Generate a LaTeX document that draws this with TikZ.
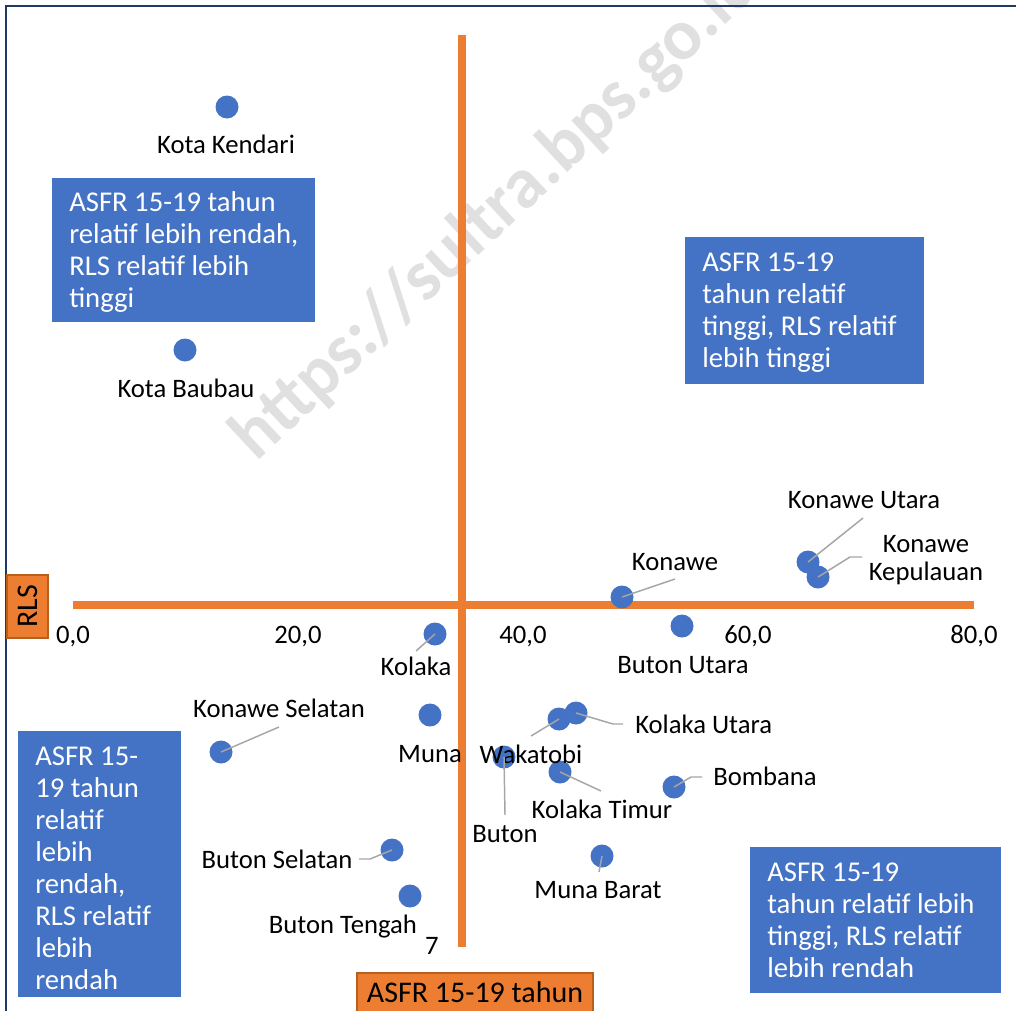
\documentclass[tikz,border=0pt]{standalone}
\usepackage{fontspec}
\setmainfont{Carlito}
\definecolor{ptblue}{HTML}{4472C4}
\definecolor{axorange}{HTML}{ED7D31}
\definecolor{axedge}{HTML}{B4601F}
\definecolor{leadgray}{HTML}{A6A6A6}
\definecolor{framenavy}{HTML}{1F3864}
\definecolor{wmgray}{HTML}{E0E0E0}
\begin{document}
\begin{tikzpicture}[x=0.75pt,y=-0.75pt,
  dot/.style={circle, fill=ptblue, inner sep=0pt, minimum size=17.25pt},
  lbl/.style={font=\fontsize{20}{21}\selectfont, anchor=base, inner sep=0pt},
  lead/.style={draw=leadgray, line width=1.1pt},
  quad/.style={fill=ptblue, text=white, font=\fontsize{21.5}{24}\selectfont,
    align=flush left, anchor=north west, inner xsep=12.75pt, inner ysep=0pt,
    text height=18.7pt, text depth=77pt},
  axline/.style={draw=axorange, line width=6pt},
  axtitle/.style={fill=axorange, draw=axedge, line width=1.2pt,
    font=\fontsize{22.5}{26}\selectfont, text=black}]
\useasboundingbox (0,0) rectangle (1016,1010);

% watermark
\node[rotate=43, anchor=base west, inner sep=0pt, text=wmgray,
  font=\fontsize{54}{60}\selectfont\bfseries] (wm) at (256,463) {https://sultra.bps.go.id};

% outer frame
\draw[framenavy, line width=1.6pt] (1030,6) -- (6,6) -- (6,1030);

% quadrant axes
\coordinate (hx0) at (73,605);
\coordinate (hx1) at (974,605);
\coordinate (vy0) at (462,35);
\coordinate (vy1) at (462,947);
\draw[axline] (hx0) -- (hx1);
\draw[axline] (vy0) -- (vy1);

% tick labels
\node[lbl] (t0) at (73,643) {0,0};
\node[lbl] (t20) at (298,643) {20,0};
\node[lbl] (t40) at (523,643) {40,0};
\node[lbl] (t60) at (748,643) {60,0};
\node[lbl] (t80) at (974,643) {80,0};
\node[lbl] (t7) at (432,954) {7};

% axis titles
\node[axtitle, rotate=90, minimum width=47.25pt, minimum height=30.75pt, inner sep=0pt]
  (rls) at (27.5,606.5) {RLS};
\node[axtitle, anchor=north, minimum width=177pt, inner xsep=0pt, inner ysep=6.75pt,
  text height=15.75pt, text depth=5.6pt] (asfr) at (475,972) {ASFR 15-19 tahun};

% quadrant descriptions
\node[quad, text width=171.75pt, minimum height=108pt] (q2) at (52,178)
  {ASFR 15-19 tahun\\relatif lebih rendah,\\RLS relatif lebih\\tinggi};
\node[quad, text width=153.75pt, minimum height=110.25pt] (q1) at (685,237)
  {ASFR 15-19\\tahun relatif\\tinggi, RLS relatif\\lebih tinggi};
\node[quad, text width=96.75pt, minimum height=196.5pt,
  text height=26pt, text depth=173pt] (q3) at (18,731)
  {ASFR 15-\\19 tahun\\relatif\\lebih\\rendah,\\RLS relatif\\lebih\\rendah};
\node[quad, text width=162.75pt, minimum height=109.5pt] (q4) at (750,847)
  {ASFR 15-19\\tahun relatif lebih\\tinggi, RLS relatif\\lebih rendah};

% data points
\node[dot] (kk)   at (227,107) {};
\node[dot] (kb)   at (185,350) {};
\node[dot] (kon)  at (622,597) {};
\node[dot] (bu)   at (682,626) {};
\node[dot] (ku)   at (808,562) {};
\node[dot] (kkep) at (818,577) {};
\node[dot] (kol)  at (435,634) {};
\node[dot] (mun)  at (430,715) {};
\node[dot] (ks)   at (221,752) {};
\node[dot] (wak)  at (559,719) {};
\node[dot] (kut)  at (576,713) {};
\node[dot] (but)  at (504,757) {};
\node[dot] (kt)   at (560,772) {};
\node[dot] (bom)  at (674,787) {};
\node[dot] (mb)   at (602,856) {};
\node[dot] (bs)   at (392,850) {};
\node[dot] (bt)   at (410,896) {};

% data labels
\node[lbl] (lkk)   at (226,153) {Kota Kendari};
\node[lbl] (lkb)   at (186,397) {Kota Baubau};
\node[lbl] (lkon)  at (675,570) {Konawe};
\node[lbl] (lbu)   at (683,673) {Buton Utara};
\node[lbl] (lku)   at (864,508) {Konawe Utara};
\node[lbl, align=center] (lkkep) at (926,580) {Konawe\\Kepulauan};
\node[lbl] (lkol)  at (416,675) {Kolaka};
\node[lbl] (lmun)  at (430,762) {Muna};
\node[lbl] (lks)   at (279,717) {Konawe Selatan};
\node[lbl] (lwak)  at (531,763) {Wakatobi};
\node[lbl, anchor=base west] (lkut) at (635,733) {Kolaka Utara};
\node[lbl] (lbut)  at (505,842) {Buton};
\node[lbl] (lkt)   at (602,818) {Kolaka Timur};
\node[lbl, anchor=base west] (lbom) at (713,785) {Bombana};
\node[lbl] (lmb)   at (598,898) {Muna Barat};
\node[lbl] (lbs)   at (277,868) {Buton Selatan};
\node[lbl] (lbt)   at (343,933) {Buton Tengah};

% leader-line ends
\coordinate (eku)   at (863,518);
\coordinate (ekkepa) at (850,557);
\coordinate (ekkep) at (862,557);
\coordinate (ekon)  at (675,579);
\coordinate (ekol)  at (416,651);
\coordinate (eks)   at (279,727);
\coordinate (ewak)  at (531,736);
\coordinate (ekuta) at (613,724);
\coordinate (ekut)  at (623,724);
\coordinate (ebut)  at (505,815);
\coordinate (ekt)   at (601,791);
\coordinate (eboma) at (691,777);
\coordinate (ebom)  at (702,777);
\coordinate (emb)   at (599,872);
\coordinate (ebsa)  at (370,859);
\coordinate (ebs)   at (359,859);

% leader lines
\draw[lead] (ku.center) -- (eku);
\draw[lead] (kkep.center) -- (ekkepa) -- (ekkep);
\draw[lead] (kon.center) -- (ekon);
\draw[lead] (kol.center) -- (ekol);
\draw[lead] (ks.center) -- (eks);
\draw[lead] (wak.center) -- (ewak);
\draw[lead] (kut.center) -- (ekuta) -- (ekut);
\draw[lead] (but.center) -- (ebut);
\draw[lead] (kt.center) -- (ekt);
\draw[lead] (bom.center) -- (eboma) -- (ebom);
\draw[lead] (mb.center) -- (emb);
\draw[lead] (bs.center) -- (ebsa) -- (ebs);
\end{tikzpicture}
\end{document}
